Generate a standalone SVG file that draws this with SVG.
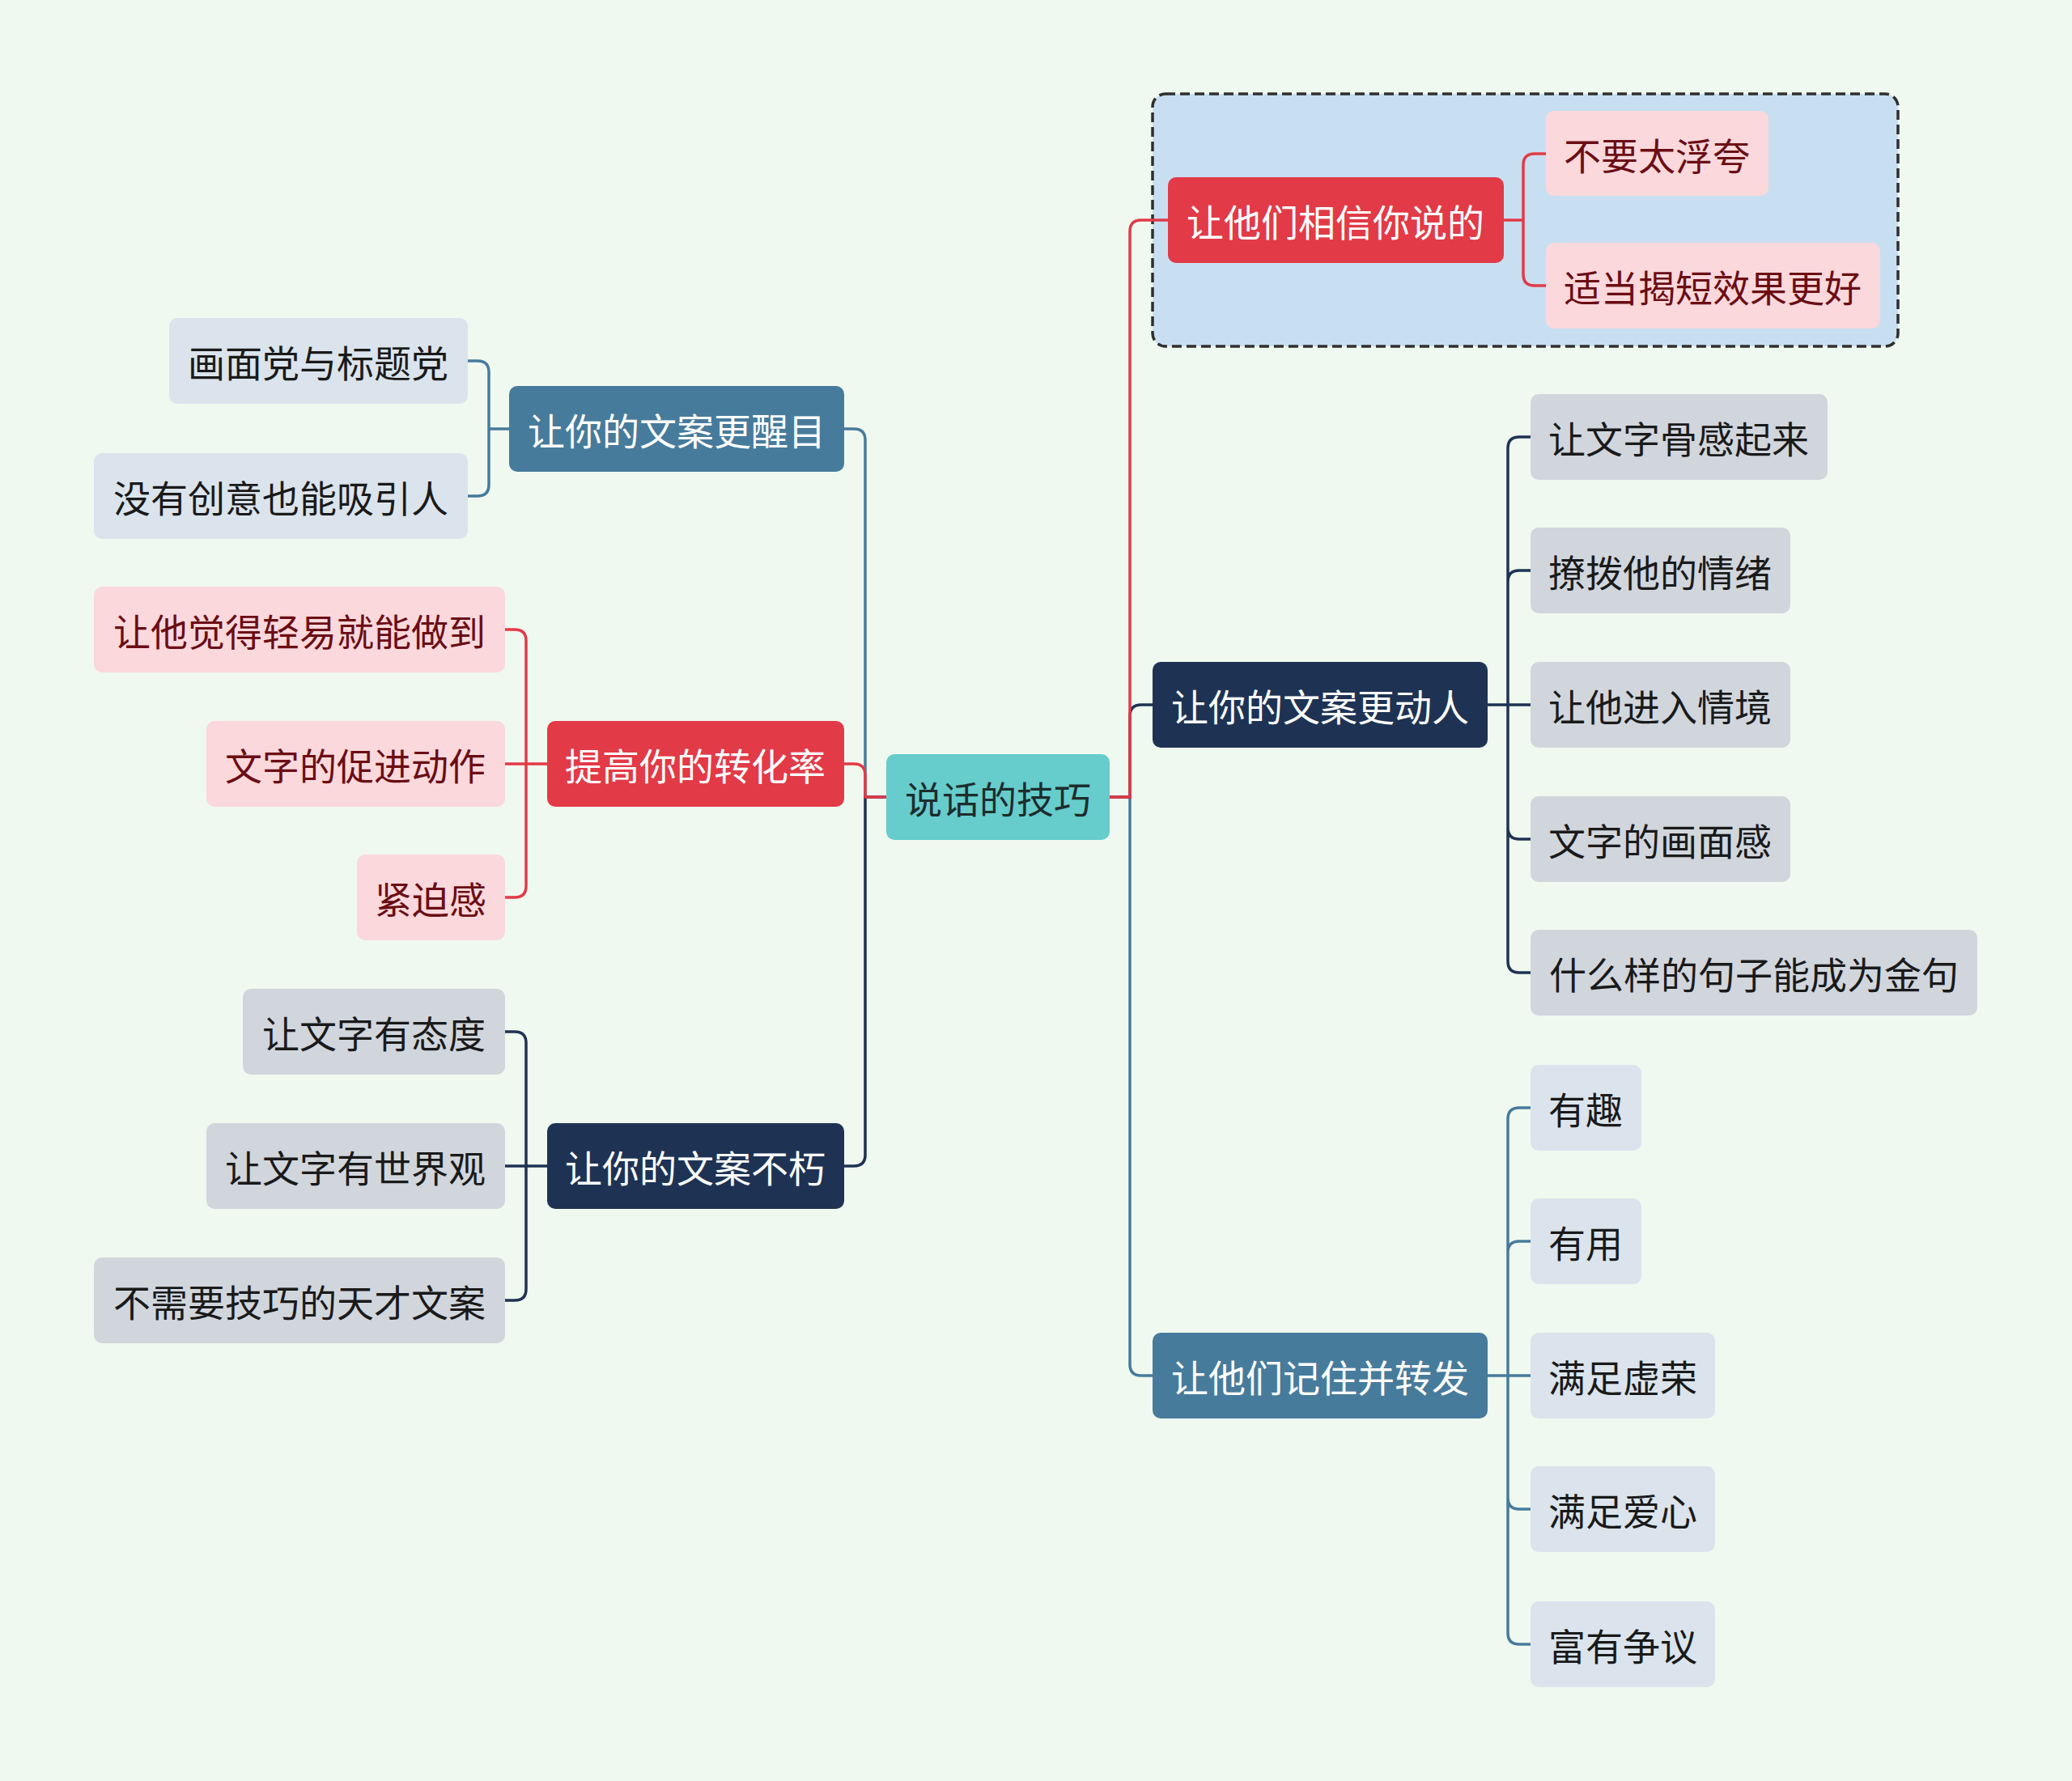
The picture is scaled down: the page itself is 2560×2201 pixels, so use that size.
<svg xmlns="http://www.w3.org/2000/svg" width="2560" height="2201" viewBox="0 0 2560 2201">
<style>
text{font-family:"Noto Sans CJK SC","Noto Sans",sans-serif;font-size:46px;text-anchor:middle;dominant-baseline:central}
.c{fill:none;stroke-width:3.5;stroke-linecap:round}
.red{stroke:#e23a47}.navy{stroke:#1e3354}.steel{stroke:#477b9c}
.nRed{fill:#e23a47}.nNavy{fill:#1e3354}.nSteel{fill:#477b9c}
.tW{fill:#ffffff}.tR{fill:#6b0d14}.tD{fill:#1a1a1a}
.lPink{fill:#fad8dc}.lGray{fill:#d1d6dd}.lBlue{fill:#dbe4ec}
</style>
<rect width="2560" height="2201" fill="#f0f9ef"/>
<rect x="1424" y="116" width="921" height="312" rx="16" fill="#c8dff1" stroke="#2f2f2f" stroke-width="3.5" stroke-dasharray="12 6"/>
<g id="connectors">
<path class="c steel" d="M1371 985 H1396 V1686 Q1396 1700 1410 1700 H1424"/>
<path class="c navy" d="M1371 985 H1396 V885 Q1396 871 1410 871 H1424"/>
<path class="c red" d="M1371 985 H1396 V286 Q1396 272 1410 272 H1443"/>
<path class="c steel" d="M1095 985 H1069 V544 Q1069 530 1055 530 H1043"/>
<path class="c navy" d="M1095 985 H1069 V1427 Q1069 1441 1055 1441 H1043"/>
<path class="c red" d="M1095 985 H1069 V958 Q1069 944 1055 944 H1043"/>
<path class="c red" d="M1858 272 H1882 V204 Q1882 190 1896 190 H1910 M1882 272 V339 Q1882 353 1896 353 H1910"/>
<path class="c navy" d="M1838 871 H1863 M1863 554 Q1863 540 1877 540 H1891 M1863 554 V1188 Q1863 1202 1877 1202 H1891 M1863 719 Q1863 705 1877 705 H1891 M1863 871 H1891 M1863 1023 Q1863 1037 1877 1037 H1891"/>
<path class="c steel" d="M1838 1700 H1863 M1863 1383 Q1863 1369 1877 1369 H1891 M1863 1383 V2018 Q1863 2032 1877 2032 H1891 M1863 1548 Q1863 1534 1877 1534 H1891 M1863 1700 H1891 M1863 1851 Q1863 1865 1877 1865 H1891"/>
<path class="c steel" d="M629 530 H604 M604 460 Q604 446 590 446 H578 M604 460 V599 Q604 613 590 613 H578"/>
<path class="c red" d="M676 944 H650 M650 792 Q650 778 636 778 H624 M650 792 V1095 Q650 1109 636 1109 H624 M650 944 H624"/>
<path class="c navy" d="M676 1441 H650 M650 1289 Q650 1275 636 1275 H624 M650 1289 V1593 Q650 1607 636 1607 H624 M650 1441 H624"/>
</g>
<g id="root"><rect x="1095" y="932" width="276" height="106" rx="10" fill="#66cccc"/><text x="1233" y="985" fill="#1d2d2d">说话的技巧</text></g>
<g id="r1"><rect class="nRed" x="1443" y="219" width="415" height="106" rx="10"/><text class="tW" x="1650" y="272">让他们相信你说的</text></g>
<g id="r1a"><rect class="lPink" x="1910" y="137" width="275" height="105" rx="10"/><text class="tR" x="2047" y="190">不要太浮夸</text></g>
<g id="r1b"><rect class="lPink" x="1910" y="300" width="413" height="106" rx="10"/><text class="tR" x="2116" y="353">适当揭短效果更好</text></g>
<g id="r2"><rect class="nNavy" x="1424" y="818" width="414" height="106" rx="10"/><text class="tW" x="1631" y="871">让你的文案更动人</text></g>
<g id="r2a"><rect class="lGray" x="1891" y="487" width="367" height="106" rx="10"/><text class="tD" x="2074" y="540">让文字骨感起来</text></g>
<g id="r2b"><rect class="lGray" x="1891" y="652" width="321" height="106" rx="10"/><text class="tD" x="2051" y="705">撩拨他的情绪</text></g>
<g id="r2c"><rect class="lGray" x="1891" y="818" width="321" height="106" rx="10"/><text class="tD" x="2051" y="871">让他进入情境</text></g>
<g id="r2d"><rect class="lGray" x="1891" y="984" width="321" height="106" rx="10"/><text class="tD" x="2051" y="1037">文字的画面感</text></g>
<g id="r2e"><rect class="lGray" x="1891" y="1149" width="552" height="106" rx="10"/><text class="tD" x="2167" y="1202">什么样的句子能成为金句</text></g>
<g id="r3"><rect class="nSteel" x="1424" y="1647" width="414" height="106" rx="10"/><text class="tW" x="1631" y="1700">让他们记住并转发</text></g>
<g id="r3a"><rect class="lBlue" x="1891" y="1316" width="137" height="106" rx="10"/><text class="tD" x="1959" y="1369">有趣</text></g>
<g id="r3b"><rect class="lBlue" x="1891" y="1481" width="137" height="106" rx="10"/><text class="tD" x="1959" y="1534">有用</text></g>
<g id="r3c"><rect class="lBlue" x="1891" y="1647" width="228" height="106" rx="10"/><text class="tD" x="2005" y="1700">满足虚荣</text></g>
<g id="r3d"><rect class="lBlue" x="1891" y="1812" width="228" height="106" rx="10"/><text class="tD" x="2005" y="1865">满足爱心</text></g>
<g id="r3e"><rect class="lBlue" x="1891" y="1979" width="228" height="106" rx="10"/><text class="tD" x="2005" y="2032">富有争议</text></g>
<g id="l1"><rect class="nSteel" x="629" y="477" width="414" height="106" rx="10"/><text class="tW" x="836" y="530">让你的文案更醒目</text></g>
<g id="l1a"><rect class="lBlue" x="209" y="393" width="369" height="106" rx="10"/><text class="tD" x="393" y="446">画面党与标题党</text></g>
<g id="l1b"><rect class="lBlue" x="116" y="560" width="462" height="106" rx="10"/><text class="tD" x="347" y="613">没有创意也能吸引人</text></g>
<g id="l2"><rect class="nRed" x="676" y="891" width="367" height="106" rx="10"/><text class="tW" x="859" y="944">提高你的转化率</text></g>
<g id="l2a"><rect class="lPink" x="116" y="725" width="508" height="106" rx="10"/><text class="tR" x="370" y="778">让他觉得轻易就能做到</text></g>
<g id="l2b"><rect class="lPink" x="255" y="891" width="369" height="106" rx="10"/><text class="tR" x="439" y="944">文字的促进动作</text></g>
<g id="l2c"><rect class="lPink" x="441" y="1056" width="183" height="106" rx="10"/><text class="tR" x="532" y="1109">紧迫感</text></g>
<g id="l3"><rect class="nNavy" x="676" y="1388" width="367" height="106" rx="10"/><text class="tW" x="859" y="1441">让你的文案不朽</text></g>
<g id="l3a"><rect class="lGray" x="300" y="1222" width="324" height="106" rx="10"/><text class="tD" x="462" y="1275">让文字有态度</text></g>
<g id="l3b"><rect class="lGray" x="255" y="1388" width="369" height="106" rx="10"/><text class="tD" x="439" y="1441">让文字有世界观</text></g>
<g id="l3c"><rect class="lGray" x="116" y="1554" width="508" height="106" rx="10"/><text class="tD" x="370" y="1607">不需要技巧的天才文案</text></g>
</svg>
